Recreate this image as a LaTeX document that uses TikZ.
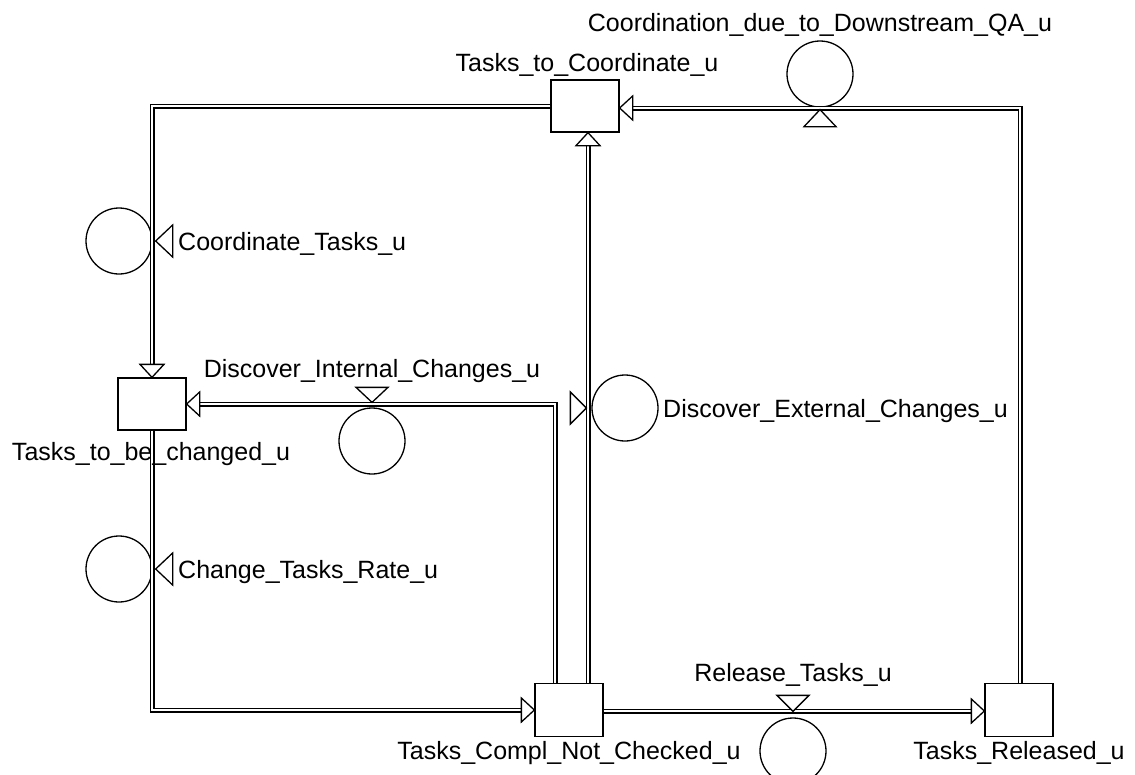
\documentclass[tikz,border=0pt]{standalone}
\usepackage{fontspec}
\setmainfont{Liberation Sans}
\usetikzlibrary{calc}
\begin{document}
\begin{tikzpicture}[x=1pt,y=-1pt,
  stock/.style={draw, line width=1.3pt, minimum width=68pt, minimum height=52pt, inner sep=0pt},
  rate/.style={draw, circle, line width=1.3pt, minimum size=66pt, inner sep=0pt},
  pipe/.style={draw, double, line width=1.2pt, double distance=2.6pt, line join=miter, shorten >=12pt},
  pipeplain/.style={draw, double, line width=1.2pt, double distance=2.6pt, line join=miter},
  tiptri/.style={draw, line width=1.3pt, fill=white, line join=miter},
  valve/.style={draw, line width=1.3pt, fill=white, line join=miter},
  lbl/.style={inner sep=0pt, font=\fontsize{25}{30}\selectfont}]
\useasboundingbox (0,0) rectangle (1135,774);

% stocks
\node[stock] (TC) at (585,106) {};
\node[stock] (TBC) at (152,404) {};
\node[stock, minimum height=53pt] (TCNC) at (569,710) {};
\node[stock, minimum height=53pt] (TR) at (1019,710) {};

% rates
\node[rate] (CDQA) at (820,74) {};
\node[rate] (CT) at (119,241) {};
\node[rate] (CTR) at (119,569) {};
\node[rate] (DIC) at (372,441) {};
\node[rate] (DEC) at (625,408) {};
\node[rate] (RT) at (793,751) {};

% pipe end points
\coordinate (p4s) at ($(TCNC.north)+(19,0)$);
\coordinate (p4e) at ($(TC.south)+(3,0)$);
\coordinate (p3s) at ($(TCNC.north)+(-14,0)$);
\coordinate (p5s) at ($(TR.north)+(1,0)$);
\coordinate (p5e) at ($(TC.east)+(0,2)$);
\coordinate (p6s) at ($(TCNC.east)+(0,1)$);
\coordinate (p6e) at ($(TR.west)+(0,1)$);

% pipes
\draw[pipe] (TC.west) -| (TBC.north);
\draw[pipe] (TBC.south) |- (TCNC.west);
\draw[pipe] (p3s) |- (TBC.east);
\draw[pipe] (p4s) -- (p4e);
\draw[pipe] (p5s) |- (p5e);
\draw[pipe] (p6s) -- (p6e);

% arrow heads
\draw[tiptri] (TBC.north) -- ++(-12,-13) -- ++(24,0) -- cycle;
\draw[tiptri] (TCNC.west) -- ++(-13,-12) -- ++(0,24) -- cycle;
\draw[tiptri] (TBC.east) -- ++(13,-12) -- ++(0,24) -- cycle;
\draw[tiptri] (p4e) -- ++(-12,13) -- ++(24,0) -- cycle;
\draw[tiptri] (p5e) -- ++(13,-12) -- ++(0,24) -- cycle;
\draw[tiptri] (p6e) -- ++(-13,-12) -- ++(0,24) -- cycle;

% valves
\draw[valve] ($(CT.east)+(3,0)$) -- ++(17,-16) -- ++(0,32) -- cycle;
\draw[valve] ($(CTR.east)+(3,0)$) -- ++(17,-16) -- ++(0,32) -- cycle;
\draw[valve] ($(DIC.north)+(0,-5)$) -- ++(-16,-15) -- ++(32,0) -- cycle;
\draw[valve] ($(DEC.west)+(-5,0)$) -- ++(-16,-16) -- ++(0,32) -- cycle;
\draw[valve] ($(CDQA.south)+(0,2)$) -- ++(-16,17) -- ++(32,0) -- cycle;
\draw[valve] ($(RT.north)+(0,-6)$) -- ++(-16,-16) -- ++(32,0) -- cycle;

% labels
\node[lbl, anchor=base] (lCDQA) at (820,31) {Coordination\_due\_to\_Downstream\_QA\_u};
\node[lbl, anchor=base] (lTC) at (587,71) {Tasks\_to\_Coordinate\_u};
\node[lbl, anchor=base west] (lCT) at (178,250) {Coordinate\_Tasks\_u};
\node[lbl, anchor=base west] (lCTR) at (178,578) {Change\_Tasks\_Rate\_u};
\node[lbl, anchor=base] (lDIC) at (372,377) {Discover\_Internal\_Changes\_u};
\node[lbl, anchor=base] (lTBC) at (151,460) {Tasks\_to\_be\_changed\_u};
\node[lbl, anchor=base west] (lDEC) at (663,417) {Discover\_External\_Changes\_u};
\node[lbl, anchor=base] (lRT) at (793,681) {Release\_Tasks\_u};
\node[lbl, anchor=base] (lTCNC) at (569,759) {Tasks\_Compl\_Not\_Checked\_u};
\node[lbl, anchor=base] (lTR) at (1019,759) {Tasks\_Released\_u};
\end{tikzpicture}
\end{document}
